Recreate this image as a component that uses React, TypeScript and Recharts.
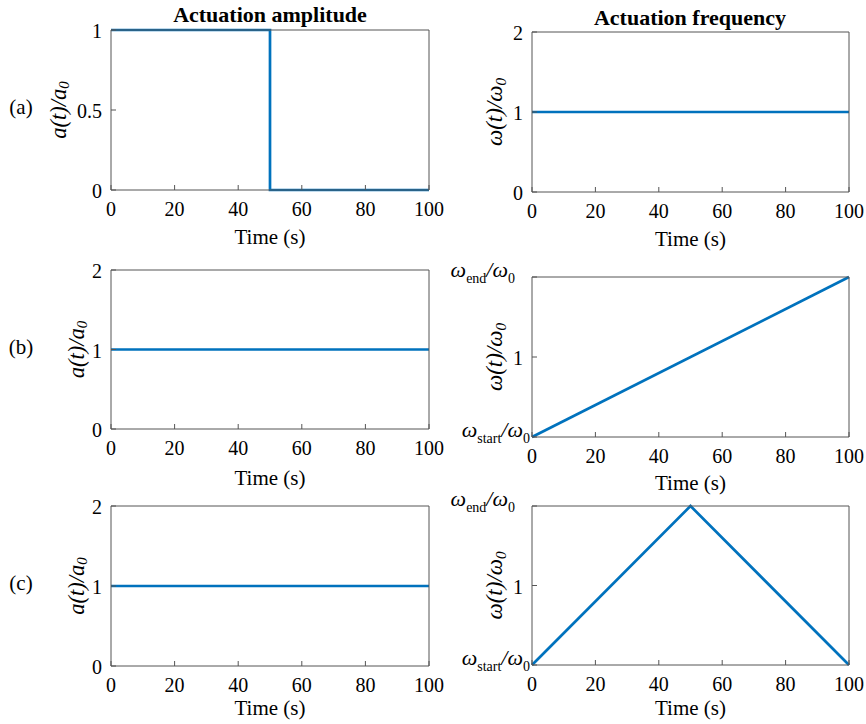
import React from "react";
import { LineChart, Line, XAxis, YAxis, Label } from "recharts";

const timeTicks = [0, 20, 40, 60, 80, 100];

// (a) amplitude switched off at t = 50 s, constant frequency
const ampTimeA = [0, 50, 50, 100];
const ampA = [1, 1, 0, 0];
const freqTimeA = [0, 100];
const freqA = [1, 1];

// (b) constant amplitude, linear frequency sweep
const ampTimeB = [0, 100];
const ampB = [1, 1];
const freqTimeB = [0, 100];
const freqB = [0.5, 1.5];

// (c) constant amplitude, up/down frequency sweep
const ampTimeC = [0, 100];
const ampC = [1, 1];
const freqTimeC = [0, 50, 100];
const freqC = [0.5, 1.5, 0.5];

const ampTicksA = [0, 0.5, 1];
const unitTicks = [0, 1, 2];
const sweepTicks = [0.5, 1, 1.5];
const sweepTickLabels = ["ω_start/ω_0", "1", "ω_end/ω_0"];

const panelLabels = ["(a)", "(b)", "(c)"];
const columnTitles = ["Actuation amplitude", "Actuation frequency"];
const ampLabel = "a(t)/a_0";
const freqLabel = "ω(t)/ω_0";
const timeLabel = "Time (s)";

const AXIS = "#555555";
const BLUE = "#0072BD";
const FONT = "Liberation Serif";

type Part = { text: string; sub: boolean };

// split "x_sub/y_sub" into plain and subscript pieces
function parseSub(s: string): Part[] {
  const parts: Part[] = [];
  const re = /_([^/]+)/g;
  let last = 0;
  let m: RegExpExecArray | null;
  while ((m = re.exec(s))) {
    if (m.index > last) parts.push({ text: s.slice(last, m.index), sub: false });
    parts.push({ text: m[1], sub: true });
    last = m.index + m[0].length;
  }
  if (last < s.length) parts.push({ text: s.slice(last), sub: false });
  return parts;
}

function spans(s: string, size: number, subSize: number, italicSub: boolean) {
  let inSub = false;
  return parseSub(s).map((p, i) => {
    const shift = size * 0.28;
    const dy = p.sub && !inSub ? shift : !p.sub && inSub ? -shift : 0;
    inSub = p.sub;
    return (
      <tspan
        key={i}
        dy={dy}
        fontSize={p.sub ? subSize : size}
        fontStyle={p.sub ? (italicSub ? "italic" : "normal") : "italic"}
      >
        {p.text}
      </tspan>
    );
  });
}

type PanelProps = {
  left: number;
  top: number;
  width: number;
  height: number;
  chartLeft: number;
  time: number[];
  values: number[];
  yDomain: [number, number];
  yTicks: number[];
  yTickLabels?: string[];
  yLabel: string;
  yLabelX: number;
  yLabelSize: number;
  xLabelGap?: number;
};

function Panel(p: PanelProps) {
  const ML = p.left - p.chartLeft;
  const MT = 20;
  const MR = 26;
  const MB = 70;
  const gap = p.xLabelGap ?? 49;
  const data = p.time.map((t, i) => ({ t, v: p.values[i] }));

  const renderYTick = (props: any) => {
    const { x, y, payload } = props;
    const idx = p.yTicks.indexOf(payload.value);
    const txt = p.yTickLabels ? p.yTickLabels[idx] : String(payload.value);
    if (txt.includes("_")) {
      // MATLAB places the lower sweep label tight to the axis, the upper one further out
      const dx = idx === 0 ? 7 : -8;
      return (
        <text x={x + dx} y={y} dy={4} textAnchor="end" fill="#000" fontSize={22} fontFamily={FONT}>
          {spans(txt, 22, 14, false)}
        </text>
      );
    }
    return (
      <text x={x} y={y} dy={8} textAnchor="end" fill="#000" fontSize={20} fontFamily={FONT}>
        {txt}
      </text>
    );
  };

  const yLabelCx = p.yLabelX - p.chartLeft;
  const yLabelCy = MT + p.height / 2;

  return (
    <div style={{ position: "absolute", left: p.chartLeft, top: p.top - MT }}>
      <LineChart
        width={ML + p.width + MR}
        height={MT + p.height + MB}
        data={data}
        margin={{ top: MT - 1, right: MR - 1, bottom: 0, left: 0 }}
      >
        <XAxis
          xAxisId="b"
          type="number"
          dataKey="t"
          domain={[0, 100]}
          ticks={timeTicks}
          interval={0}
          height={MB}
          tickSize={-5}
          tickMargin={17}
          stroke={AXIS}
          tick={{ fill: "#000", fontSize: 20, fontFamily: FONT }}
          label={
            <Label
              content={() => (
                <text
                  x={ML + p.width / 2}
                  y={MT + p.height + gap}
                  textAnchor="middle"
                  dominantBaseline="central"
                  fontSize={21}
                  fontFamily={FONT}
                  fill="#000"
                >
                  {timeLabel}
                </text>
              )}
            />
          }
        />
        <XAxis
          xAxisId="top"
          orientation="top"
          type="number"
          dataKey="t"
          domain={[0, 100]}
          ticks={timeTicks}
          interval={0}
          height={1}
          tickSize={-5}
          tick={false}
          stroke={AXIS}
        />
        <YAxis
          yAxisId="l"
          type="number"
          domain={p.yDomain}
          ticks={p.yTicks}
          interval={0}
          width={ML}
          tickSize={-5}
          tickMargin={14}
          stroke={AXIS}
          tick={renderYTick}
          label={
            <Label
              content={() => (
                <text
                  x={yLabelCx}
                  y={yLabelCy}
                  transform={`rotate(-90, ${yLabelCx}, ${yLabelCy})`}
                  textAnchor="middle"
                  dominantBaseline="central"
                  fill="#000"
                  fontSize={p.yLabelSize}
                  fontFamily={FONT}
                >
                  {spans(p.yLabel, p.yLabelSize, p.yLabelSize * 0.66, true)}
                </text>
              )}
            />
          }
        />
        <YAxis
          yAxisId="r"
          orientation="right"
          type="number"
          domain={p.yDomain}
          ticks={p.yTicks}
          interval={0}
          width={1}
          tickSize={-5}
          tick={false}
          stroke={AXIS}
        />
        <Line
          xAxisId="b"
          yAxisId="l"
          dataKey="v"
          type="linear"
          stroke={BLUE}
          strokeWidth={2.7}
          dot={false}
          isAnimationActive={false}
        />
      </LineChart>
    </div>
  );
}

export default function App() {
  const leftX = 111;
  const rightX = 532;
  const plotW = 318;
  const plotH = 160;
  const aSize = 22.5;
  const wSize = 23;
  const rows = [
    { l: 30, r: 32 },
    { l: 270, r: 277 },
    { l: 506, r: 506 },
  ];
  return (
    <div
      style={{
        position: "absolute",
        left: 0,
        top: 0,
        width: 866,
        height: 724,
        background: "#fff",
        fontFamily: FONT,
        color: "#000",
        overflow: "hidden",
      }}
    >
      <Panel left={leftX} top={rows[0].l} width={plotW} height={plotH} chartLeft={0}
        time={ampTimeA} values={ampA} yDomain={[0, 1]} yTicks={ampTicksA}
        yLabel={ampLabel} yLabelX={58} yLabelSize={aSize} xLabelGap={47} />
      <Panel left={rightX} top={rows[0].r} width={plotW - 1} height={plotH} chartLeft={440}
        time={freqTimeA} values={freqA} yDomain={[0, 2]} yTicks={unitTicks}
        yLabel={freqLabel} yLabelX={494} yLabelSize={wSize} xLabelGap={47} />
      <Panel left={leftX} top={rows[1].l} width={plotW} height={plotH - 1} chartLeft={0}
        time={ampTimeB} values={ampB} yDomain={[0, 2]} yTicks={unitTicks}
        yLabel={ampLabel} yLabelX={76} yLabelSize={aSize} />
      <Panel left={rightX} top={rows[1].r} width={plotW - 1} height={plotH} chartLeft={440}
        time={freqTimeB} values={freqB} yDomain={[0.5, 1.5]} yTicks={sweepTicks}
        yTickLabels={sweepTickLabels} yLabel={freqLabel} yLabelX={494} yLabelSize={wSize} xLabelGap={46} />
      <Panel left={leftX} top={rows[2].l} width={plotW} height={plotH} chartLeft={0}
        time={ampTimeC} values={ampC} yDomain={[0, 2]} yTicks={unitTicks}
        yLabel={ampLabel} yLabelX={76} yLabelSize={aSize} xLabelGap={42} />
      <Panel left={rightX} top={rows[2].r} width={plotW - 1} height={plotH - 1} chartLeft={440}
        time={freqTimeC} values={freqC} yDomain={[0.5, 1.5]} yTicks={sweepTicks}
        yTickLabels={sweepTickLabels} yLabel={freqLabel} yLabelX={494} yLabelSize={wSize} xLabelGap={43} />

      {columnTitles.map((t, i) => (
        <div
          key={t}
          style={{
            position: "absolute",
            left: (i === 0 ? 270 : 690) - 150,
            top: (i === 0 ? 15 : 18) - 13,
            width: 300,
            textAlign: "center",
            fontWeight: "bold",
            fontSize: 22,
            lineHeight: "26px",
          }}
        >
          {t}
        </div>
      ))}
      {panelLabels.map((t, i) => (
        <div
          key={t}
          style={{
            position: "absolute",
            left: 0,
            width: 42,
            top: rows[i].l + plotH / 2 - 3 - 13,
            textAlign: "center",
            fontSize: 21,
            lineHeight: "26px",
          }}
        >
          {t}
        </div>
      ))}
    </div>
  );
}
